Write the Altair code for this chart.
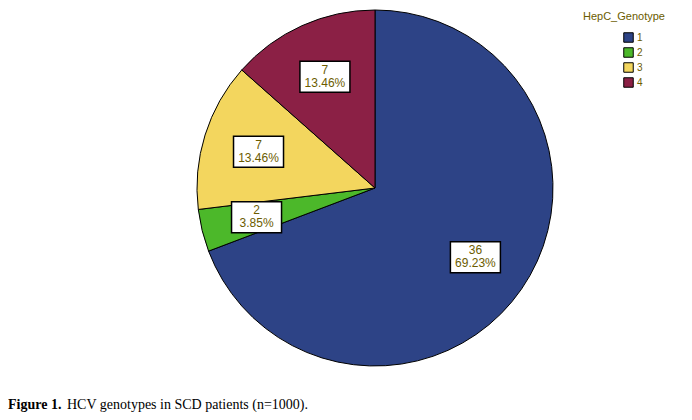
import altair as alt
import pandas as pd

genotypes = ["1", "2", "3", "4"]
counts = [36, 2, 7, 7]
colors = ["#2d4386", "#4cb82a", "#f3d65e", "#8b2045"]

df = pd.DataFrame({"HepC_Genotype": genotypes, "count": counts})

CX, CY, R, LR = 367, 180, 178, 122
TXT = "#6b5c00"

base = alt.Chart(df)

pie = base.mark_arc(outerRadius=R, stroke="black", strokeWidth=1).encode(
    theta=alt.Theta("count:Q", stack=True),
    order=alt.Order("HepC_Genotype:N"),
    color=alt.Color(
        "HepC_Genotype:N",
        scale=alt.Scale(domain=genotypes, range=colors),
        legend=alt.Legend(
            orient="none", legendX=575, legendY=3,
            title="HepC_Genotype", titleFont="Liberation Sans", titleFontSize=11,
            titleFontWeight="normal", titleColor=TXT, titlePadding=10,
            labelFont="Liberation Sans", labelFontSize=10, labelColor=TXT,
            labelOffset=3, symbolType="square", symbolSize=90,
            symbolStrokeColor="black", symbolStrokeWidth=1, symbolOffset=40,
            rowPadding=0,
        ),
    ),
    x=alt.value(CX),
    y=alt.value(CY),
)

lab = base.transform_joinaggregate(total="sum(count)").transform_window(
    cum="sum(count)", sort=[alt.SortField("HepC_Genotype")], frame=[None, 0]
).transform_calculate(
    ang="(datum.cum - datum.count/2)/datum.total*2*PI",
    px=f"{CX} + {LR}*sin(datum.ang)",
    py=f"{CY} - {LR}*cos(datum.ang)",
    pct="format(datum.count/datum.total*100, '.2f') + '%'",
)

enc = dict(x=alt.X("px:Q", scale=None), y=alt.Y("py:Q", scale=None))

boxes = lab.mark_point(
    shape="M-1,-0.62H1V0.62H-1Z", size=2500, filled=True, fill="white",
    stroke="black", strokeWidth=1.5, opacity=1,
).encode(**enc)

t1 = lab.mark_text(
    font="Liberation Sans", fontSize=12, color=TXT, baseline="middle", align="center", dy=-7,
).encode(text="count:N", **enc)
t2 = lab.mark_text(
    font="Liberation Sans", fontSize=12, color=TXT, baseline="middle", align="center", dy=6,
).encode(text="pct:N", **enc)

cap_df = pd.DataFrame({"a": ["Figure 1."], "b": ["HCV genotypes in SCD patients (n=1000)."]})
cap1 = alt.Chart(cap_df).mark_text(
    font="Liberation Serif", fontSize=14, fontWeight="bold", align="left", color="black"
).encode(x=alt.value(0), y=alt.value(397), text="a:N")
cap2 = alt.Chart(cap_df).mark_text(
    font="Liberation Serif", fontSize=14, align="left", color="black"
).encode(x=alt.value(59), y=alt.value(397), text="b:N")

chart = alt.layer(pie, boxes, t1, t2, cap1, cap2).properties(
    width=676, height=404, autosize=alt.AutoSizeParams(type="none"), padding=0
).configure_view(stroke=None)

chart.save("out.html", embed_options={"renderer": "svg", "actions": False})
